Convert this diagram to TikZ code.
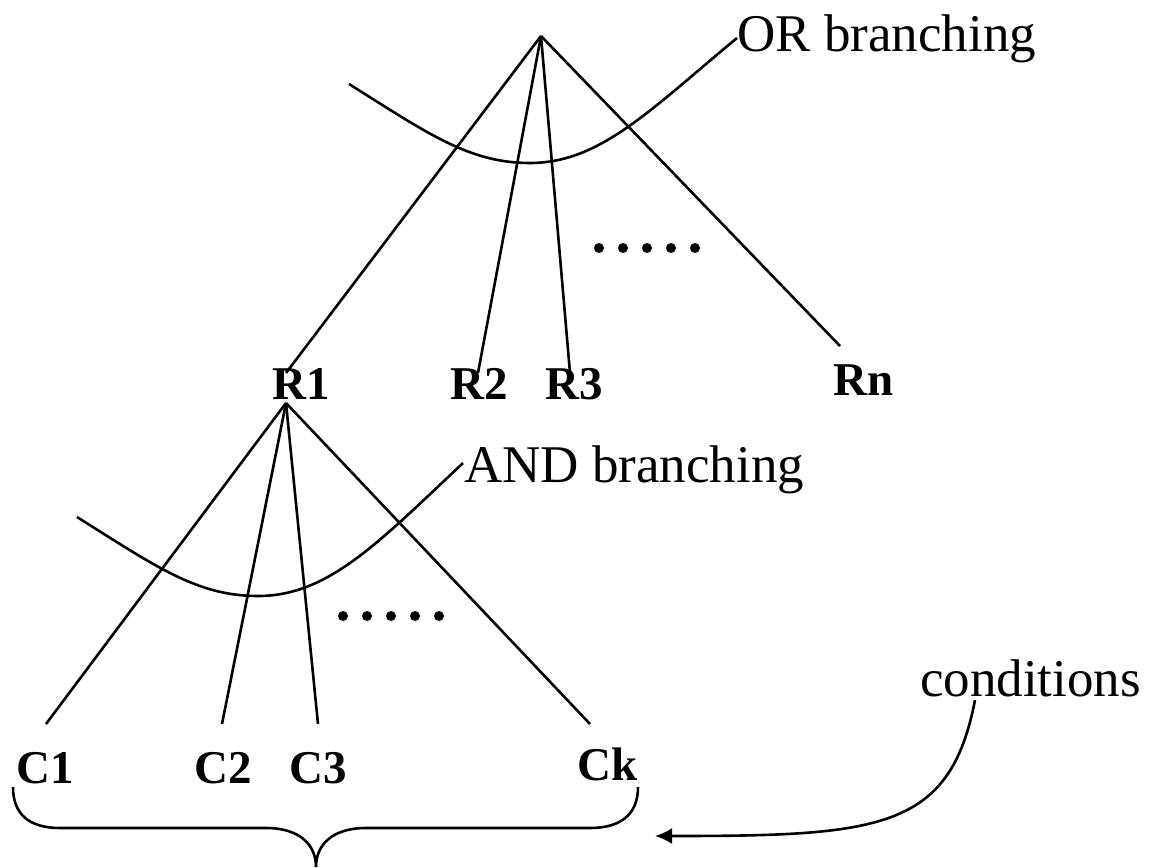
\documentclass[tikz,border=0pt]{standalone}
\usepackage{fontspec}
\setmainfont{Liberation Serif}
\usetikzlibrary{arrows.meta}
\begin{document}
\begin{tikzpicture}[x=1pt,y=-1pt,
  edge/.style={line width=2.6pt},
  curveline/.style={line width=2.6pt},
  note/.style={inner sep=0pt,anchor=base west,font=\fontsize{53}{60}\selectfont},
  lbl/.style={inner sep=0pt,anchor=base,font=\fontsize{47}{50}\selectfont\bfseries},
  dotmark/.style={circle,fill=black,inner sep=0pt,minimum size=10pt}]
\useasboundingbox (0,0) rectangle (1153,867);

% apexes
\coordinate (top) at (541,36);
\coordinate (r1apex) at (286,403);

% rule labels
\node[lbl] (R1) at (301,399) {R1};
\node[lbl] (R2) at (479,399) {R2};
\node[lbl] (R3) at (574,399) {R3};
\node[lbl] (Rn) at (864,395) {Rn};

% condition labels
\node[lbl] (C1) at (45,783) {C1};
\node[lbl] (C2) at (223,783) {C2};
\node[lbl] (C3) at (318,783) {C3};
\node[lbl] (Ck) at (608,780) {Ck};

% annotations
\node[note] (orlab) at (737,52) {OR branching};
\node[note] (andlab) at (464,482) {AND branching};
\node[note] (condlab) at (920,696) {conditions};

% ends of the branch lines
\coordinate (e1) at (286,373);
\coordinate (e2) at (478,373);
\coordinate (e3) at (570,373);
\coordinate (en) at (840,346);
\coordinate (f1) at (46,724);
\coordinate (f2) at (222,724);
\coordinate (f3) at (318,724);
\coordinate (fk) at (590,724);

% OR branches
\draw[edge] (top) -- (e1);
\draw[edge] (top) -- (e2);
\draw[edge] (top) -- (e3);
\draw[edge] (top) -- (en);

% AND branches
\draw[edge] (r1apex) -- (f1);
\draw[edge] (r1apex) -- (f2);
\draw[edge] (r1apex) -- (f3);
\draw[edge] (r1apex) -- (fk);

% arcs marking the branching type
\coordinate (ors) at (349,84);
\coordinate (orm) at (530,163);
\coordinate (ore) at (737,38);
\draw[curveline] (ors) .. controls (430,135) and (470,163) .. (orm)
                 .. controls (600,163) and (650,110) .. (ore);
\coordinate (ands) at (77,517);
\coordinate (andm) at (258,596);
\coordinate (ande) at (463,463);
\draw[curveline] (ands) .. controls (158,568) and (198,596) .. (andm)
                 .. controls (328,596) and (378,543) .. (ande);

% ellipses
\foreach \x [count=\i] in {599,623,647,671,695}
  \node[dotmark] (td\i) at (\x,248) {};
\foreach \x [count=\i] in {343,367,391,415,439}
  \node[dotmark] (bd\i) at (\x,616) {};

% brace under the conditions
\coordinate (bl) at (13,787);
\coordinate (br) at (638,787);
\coordinate (btip) at (316,867);
\draw[curveline] (bl) .. controls (13,815) and (30,828) .. (60,828) -- (266,828)
                 .. controls (300,828) and (316,845) .. (btip);
\draw[curveline] (br) .. controls (638,815) and (620,828) .. (590,828) -- (366,828)
                 .. controls (332,828) and (316,845) .. (btip);

% pointer from the word to the brace
\coordinate (cs) at (975,700);
\coordinate (ct) at (655,836);
\draw[curveline,-{Latex[length=17pt,width=16pt]}] (cs) .. controls (950,830) and (880,836) .. (ct);
\end{tikzpicture}
\end{document}
